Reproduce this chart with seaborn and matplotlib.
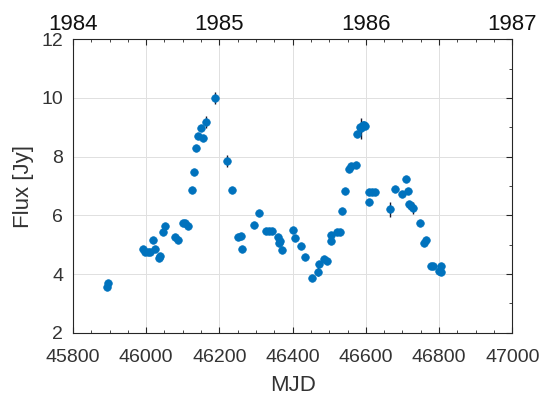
import matplotlib
matplotlib.use("Agg")
import matplotlib.pyplot as plt
import seaborn as sns
import pandas as pd
from matplotlib.ticker import MultipleLocator, FixedLocator

mjd = [45893, 45896, 45991, 45997, 46005, 46011, 46018, 46025, 46034, 46037,
       46045, 46051, 46080, 46087, 46100, 46107, 46114, 46126, 46130, 46137,
       46142, 46151, 46155, 46164, 46188, 46222, 46234, 46250, 46260, 46263,
       46295, 46309, 46327, 46336, 46344, 46359, 46362, 46366, 46371, 46402,
       46406, 46423, 46435, 46452, 46469, 46472, 46485, 46495, 46506, 46506,
       46521, 46529, 46535, 46544, 46555, 46559, 46572, 46576, 46583, 46587,
       46592, 46596, 46599, 46610, 46610, 46617, 46625, 46666, 46681, 46700,
       46709, 46715, 46717, 46723, 46730, 46747, 46758, 46764, 46777, 46784,
       46800, 46805, 46805]
flux = [3.56, 3.71, 4.85, 4.75, 4.74, 4.75, 5.16, 4.85, 4.55, 4.63,
        5.42, 5.62, 5.26, 5.15, 5.73, 5.73, 5.64, 6.85, 7.47, 8.30,
        8.72, 8.97, 8.62, 9.18, 10.01, 7.84, 6.85, 5.26, 5.31, 4.85,
        5.66, 6.08, 5.47, 5.47, 5.47, 5.26, 5.06, 5.12, 4.83, 5.50,
        5.24, 4.96, 4.59, 3.86, 4.08, 4.34, 4.51, 4.43, 5.11, 5.32,
        5.44, 5.44, 6.16, 6.83, 7.57, 7.68, 7.72, 8.77, 9.01, 8.96,
        9.09, 9.09, 9.04, 6.47, 6.78, 6.78, 6.78, 6.21, 6.89, 6.74,
        7.25, 6.84, 6.38, 6.32, 6.24, 5.75, 5.07, 5.16, 4.28, 4.28,
        4.11, 4.08, 4.28]
err = [0.1] * len(mjd)
for i, e in [(23, 0.2), (24, 0.2), (25, 0.2), (59, 0.35), (67, 0.25), (74, 0.2), (44, 0.15)]:
    err[i] = e

x_ticks = [45800, 46000, 46200, 46400, 46600, 46800, 47000]
y_ticks = [2, 4, 6, 8, 10, 12]
year_pos = [45800, 46200, 46600, 47000]
year_labels = ["1984", "1985", "1986", "1987"]

df = pd.DataFrame({"MJD": mjd, "Flux": flux, "err": err})

sns.set_style("white")
plt.rcParams['font.family'] = ['Liberation Sans', 'DejaVu Sans']

fig = plt.figure(figsize=(5.40, 4.03), dpi=100)
ax = fig.add_axes([0.1350, 0.1744, 0.8137, 0.7281])

blue = "#0072BD"
ax.errorbar(df["MJD"], df["Flux"], yerr=df["err"], fmt="none", ecolor="#1a1a2e",
            elinewidth=1.0, capsize=0, zorder=2)
sns.scatterplot(data=df, x="MJD", y="Flux", ax=ax, color=blue, s=30,
                edgecolor=blue, linewidth=0.5, zorder=3)

ax.set_xlim(45800, 47000)
ax.set_ylim(2, 12)
ax.set_xticks(x_ticks)
ax.set_yticks(y_ticks)
ax.xaxis.set_minor_locator(MultipleLocator(50))
ax.yaxis.set_minor_locator(MultipleLocator(1))
ax.grid(True, which="major", color="#e0e0e0", linewidth=0.7)
ax.set_axisbelow(True)

tick_col = "#262626"
ax.tick_params(which="both", direction="in", top=True, right=True, colors=tick_col,
               labelcolor="#333333", labelsize=14)
ax.tick_params(which="major", length=4, width=0.8)
ax.tick_params(which="minor", length=2.5, width=0.6)
ax.tick_params(axis="x", pad=11.5)
ax.tick_params(axis="y", pad=7)
ax.tick_params(axis="x", which="both", top=False)

ax.set_xlabel("MJD", fontsize=16, color="#333333", labelpad=7)
ax.set_ylabel("Flux [Jy]", fontsize=16, color="#333333", labelpad=5)
for s in ax.spines.values():
    s.set_color(tick_col)
    s.set_linewidth(0.8)

ax2 = ax.twiny()
ax2.set_xlim(ax.get_xlim())
ax2.xaxis.set_major_locator(FixedLocator(x_ticks))
ax2.xaxis.set_minor_locator(MultipleLocator(50))
ax2.set_xticklabels([year_labels[year_pos.index(t)] if t in year_pos else "" for t in x_ticks])
ax2.tick_params(which="both", direction="in", colors=tick_col, labelcolor="#111111",
                labelsize=16, pad=3)
ax2.tick_params(which="major", length=4, width=0.8)
ax2.tick_params(which="minor", length=2.5, width=0.6)
for s in ax2.spines.values():
    s.set_visible(False)

fig.savefig("out.png", dpi=100)
